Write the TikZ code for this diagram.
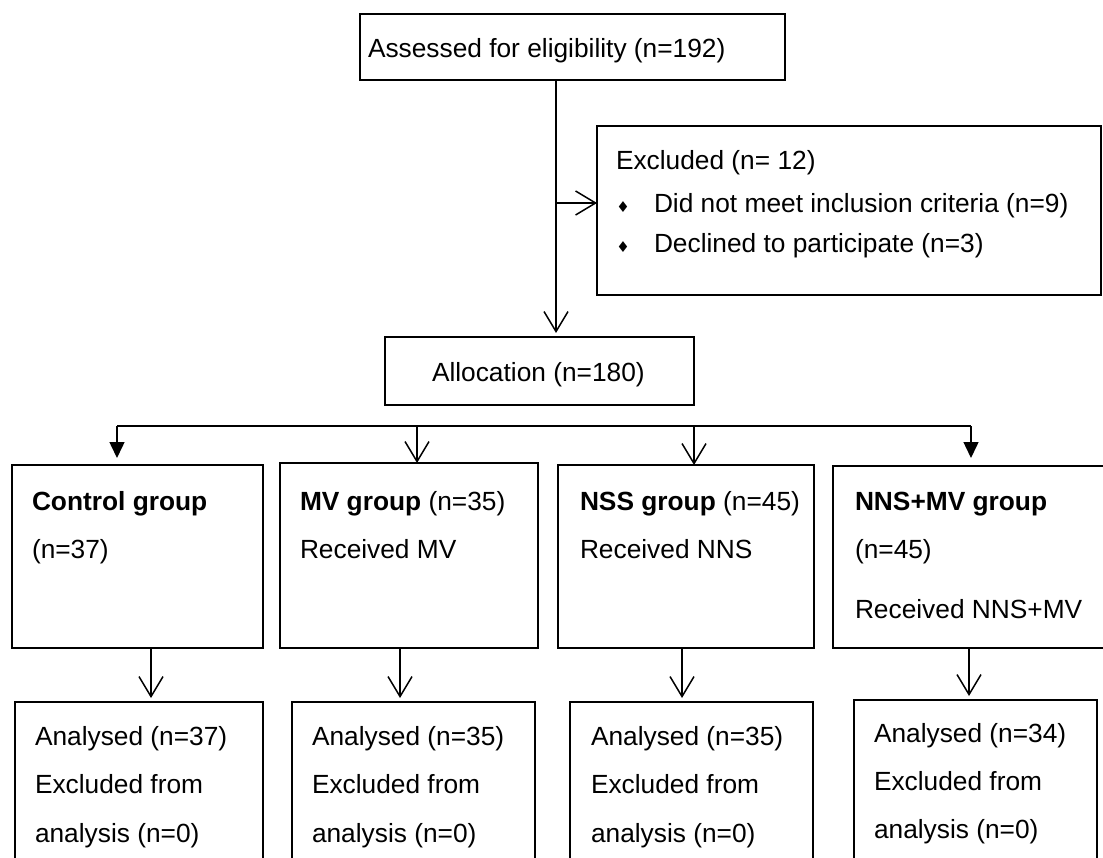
\documentclass[tikz,border=0pt]{standalone}
\usepackage{fontspec}
\setmainfont{Liberation Sans}
\newfontfamily\symfont{DejaVu Sans}
\usetikzlibrary{arrows.meta}
\tikzset{
  box/.style={draw=black, line width=1.6pt, inner sep=0pt, outer sep=0pt, anchor=north west},
  txt/.style={anchor=base west, inner sep=0pt, outer sep=0pt, font=\fontsize{26.3}{30}\selectfont},
  conn/.style={line width=1.5pt},
  openarr/.style={conn, -{Straight Barb[length=20pt,width=24pt,line width=1.5pt]}},
  fillarr/.style={conn, -{Triangle[length=16pt,width=15pt]}},
  bul/.style={inner sep=0pt, font=\symfont\fontsize{15}{15}\selectfont}
}
\begin{document}
\begin{tikzpicture}[x=1pt,y=-1pt]
\useasboundingbox (0,0) rectangle (1103,858);
\clip (0,0) rectangle (1103,858);
% boxes
\node[box, minimum width=425pt, minimum height=66pt] (top) at (360,14) {};
\node[box, minimum width=504pt, minimum height=169pt] (excl) at (597,126) {};
\node[box, minimum width=309pt, minimum height=68pt] (alloc) at (385,337) {};
\node[box, minimum width=251pt, minimum height=183pt] (g1) at (12,465) {};
\node[box, minimum width=258pt, minimum height=185pt] (g2) at (280,463) {};
\node[box, minimum width=256pt, minimum height=183pt] (g3) at (558,465) {};
\node[box, minimum width=290pt, minimum height=182pt] (g4) at (833,466) {};
\node[box, minimum width=248pt, minimum height=200pt] (a1) at (15,702) {};
\node[box, minimum width=243pt, minimum height=200pt] (a2) at (292,702) {};
\node[box, minimum width=243pt, minimum height=200pt] (a3) at (570,702) {};
\node[box, minimum width=243pt, minimum height=200pt] (a4) at (854,700) {};
% texts
\node[txt] (ttop) at (368,58) {Assessed for eligibility (n=192)};
\node[txt] (te1) at (616,170) {Excluded (n= 12)};
\node[bul] (b1) at (623,207) {♦};
\node[txt] (te2) at (654,213) {Did not meet inclusion criteria (n=9)};
\node[bul] (b2) at (623,247) {♦};
\node[txt] (te3) at (654,253) {Declined to participate (n=3)};
\node[txt] (tal) at (432,382) {Allocation (n=180)};
\node[txt] (tg1a) at (32,510) {\bfseries Control group};
\node[txt] (tg1b) at (32,558) {(n=37)};
\node[txt] (tg2a) at (300,510) {\textbf{MV group} (n=35)};
\node[txt] (tg2b) at (300,558) {Received MV};
\node[txt] (tg3a) at (580,510) {\textbf{NSS group} (n=45)};
\node[txt] (tg3b) at (580,558) {Received NNS};
\node[txt] (tg4a) at (855,510) {\bfseries NNS+MV group};
\node[txt] (tg4b) at (855,558) {(n=45)};
\node[txt] (tg4c) at (855,618) {Received NNS+MV};
\node[txt] (ta1a) at (35,745) {Analysed (n=37)};
\node[txt] (ta1b) at (35,793) {Excluded from};
\node[txt] (ta1c) at (35,842) {analysis (n=0)};
\node[txt] (ta2a) at (312,745) {Analysed (n=35)};
\node[txt] (ta2b) at (312,793) {Excluded from};
\node[txt] (ta2c) at (312,842) {analysis (n=0)};
\node[txt] (ta3a) at (591,745) {Analysed (n=35)};
\node[txt] (ta3b) at (591,793) {Excluded from};
\node[txt] (ta3c) at (591,842) {analysis (n=0)};
\node[txt] (ta4a) at (874,742) {Analysed (n=34)};
\node[txt] (ta4b) at (874,790) {Excluded from};
\node[txt] (ta4c) at (874,838) {analysis (n=0)};
% connector helper coordinates
\coordinate (vx) at (556,0);
\coordinate (hy) at (0,203);
\coordinate (s1) at (117,426);
\coordinate (s2) at (417,426);
\coordinate (s3) at (694,426);
\coordinate (s4) at (971,426);
\coordinate (d1) at (151,0);
\coordinate (d2) at (400,0);
\coordinate (d3) at (682,0);
\coordinate (d4) at (969,0);
% connectors
\draw[openarr] (top.south -| vx) -- ([yshift=4pt]alloc.north -| vx);
\draw[openarr] (vx |- hy) -- (excl.west |- hy);
\draw[conn, line width=1.8pt] (s1) -- (s4);
\draw[fillarr, shorten >=7pt] (s1) -- (g1.north -| s1);
\draw[openarr] (s2) -- (g2.north -| s2);
\draw[openarr] (s3) -- (g3.north -| s3);
\draw[fillarr, shorten >=8pt] (s4) -- (g4.north -| s4);
\draw[openarr] (g1.south -| d1) -- ([yshift=4pt]a1.north -| d1);
\draw[openarr] (g2.south -| d2) -- ([yshift=4pt]a2.north -| d2);
\draw[openarr] (g3.south -| d3) -- ([yshift=4pt]a3.north -| d3);
\draw[openarr] (g4.south -| d4) -- ([yshift=4pt]a4.north -| d4);
\end{tikzpicture}
\end{document}
